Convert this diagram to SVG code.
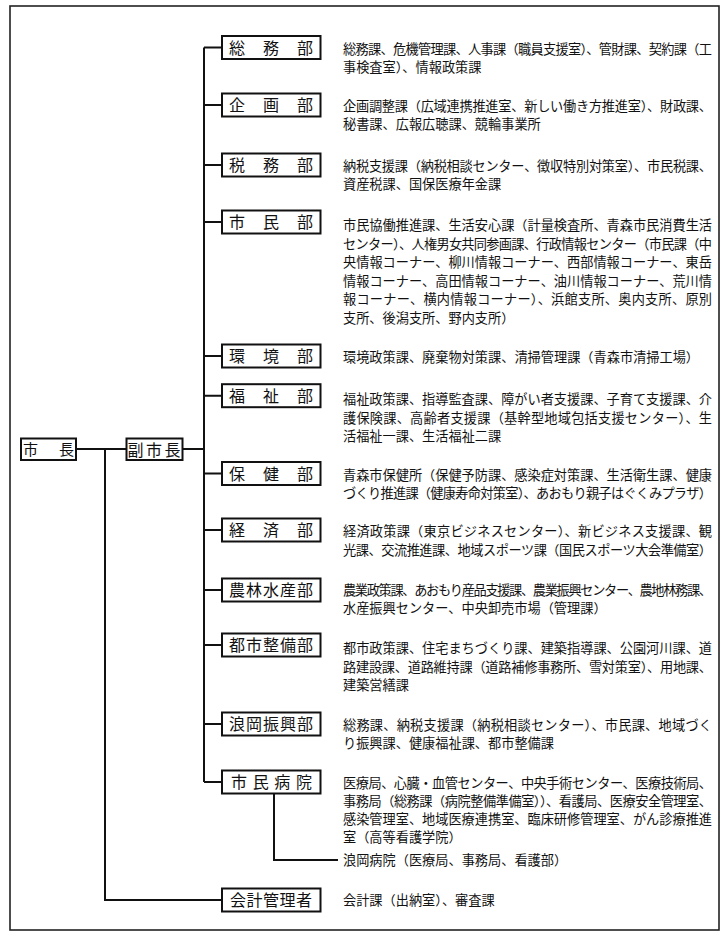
<svg xmlns="http://www.w3.org/2000/svg" width="723" height="932" viewBox="0 0 723 932">
<style>
.bg{fill:#fff}
.frame{fill:none;stroke:#222;stroke-width:1.6}
.box rect{fill:#fff;stroke:#111;stroke-width:2}
.box text{font-family:'Liberation Serif','Noto Sans CJK JP',serif;font-size:16px;fill:#111}
.conn path{fill:none;stroke:#111;stroke-width:2}
.desc{font-family:'Liberation Serif','Noto Sans CJK JP',serif;font-size:13.2px;fill:#111}
</style>
<rect class="bg" x="0" y="0" width="723" height="932"/>
<rect class="frame" x="10" y="6" width="709" height="924"/>
<g class="conn" id="connectors">
<path d="M76 449H126"/>
<path d="M105 449V900H222"/>
<path d="M182.5 449H204"/>
<path d="M204 47.5V782"/>
<path d="M204 47.5H222M204 105H222M204 165H222M204 222H222M204 356H222M204 395.7H222M204 473.5H222M204 530H222M204 590H222M204 645H222M204 724H222M204 782H222"/>
<path d="M274 793.7V860H338"/>
</g>
<g class="box" id="n-shicho"><rect x="21" y="438.5" width="55" height="21.5"/><text x="23" y="455" textLength="51" lengthAdjust="spacing" style="font-size:15px">市長</text></g>
<g class="box" id="n-fukushicho"><rect x="126.5" y="438.5" width="56" height="21.5"/><text x="127.5" y="455.5" textLength="53" lengthAdjust="spacing">副市長</text></g>
<g class="box" id="n-somu"><rect x="222" y="36" width="98.5" height="23"/><text x="229" y="53.5" textLength="84" lengthAdjust="spacing">総務部</text></g>
<g class="box" id="n-kikaku"><rect x="222" y="93.5" width="98.5" height="23"/><text x="229" y="111" textLength="84" lengthAdjust="spacing">企画部</text></g>
<g class="box" id="n-zeimu"><rect x="222" y="153.5" width="98.5" height="23"/><text x="229" y="171" textLength="84" lengthAdjust="spacing">税務部</text></g>
<g class="box" id="n-shimin"><rect x="222" y="210.5" width="98.5" height="23"/><text x="229" y="228" textLength="84" lengthAdjust="spacing">市民部</text></g>
<g class="box" id="n-kankyo"><rect x="222" y="344.5" width="98.5" height="23"/><text x="229" y="362" textLength="84" lengthAdjust="spacing">環境部</text></g>
<g class="box" id="n-fukushi"><rect x="222" y="384.2" width="98.5" height="23"/><text x="229" y="401.7" textLength="84" lengthAdjust="spacing">福祉部</text></g>
<g class="box" id="n-hoken"><rect x="222" y="462" width="98.5" height="23"/><text x="229" y="479.5" textLength="84" lengthAdjust="spacing">保健部</text></g>
<g class="box" id="n-keizai"><rect x="222" y="518.5" width="98.5" height="23"/><text x="229" y="536" textLength="84" lengthAdjust="spacing">経済部</text></g>
<g class="box" id="n-norin"><rect x="222" y="578.5" width="98.5" height="23"/><text x="229" y="596" textLength="84" lengthAdjust="spacing">農林水産部</text></g>
<g class="box" id="n-toshi"><rect x="222" y="633.5" width="98.5" height="23"/><text x="229" y="651" textLength="84" lengthAdjust="spacing">都市整備部</text></g>
<g class="box" id="n-namioka"><rect x="222" y="712.5" width="98.5" height="23"/><text x="229" y="730" textLength="84" lengthAdjust="spacing">浪岡振興部</text></g>
<g class="box" id="n-byoin"><rect x="222" y="770.5" width="98.5" height="23"/><text x="231" y="788" textLength="81" lengthAdjust="spacing">市民病院</text></g>
<g class="box" id="n-kaikei"><rect x="222" y="888.5" width="98.5" height="23"/><text x="230" y="906" textLength="82" lengthAdjust="spacing">会計管理者</text></g>
<g id="descriptions" class="desc">
<text x="343" y="54" textLength="369" lengthAdjust="spacing">総務課、危機管理課、人事課（職員支援室）、管財課、契約課（工</text>
<text x="343" y="72">事検査室）、情報政策課</text>
<text x="343" y="111" textLength="369" lengthAdjust="spacing">企画調整課（広域連携推進室、新しい働き方推進室）、財政課、</text>
<text x="343" y="129">秘書課、広報広聴課、競輪事業所</text>
<text x="343" y="171" textLength="369" lengthAdjust="spacing">納税支援課（納税相談センター、徴収特別対策室）、市民税課、</text>
<text x="343" y="189">資産税課、国保医療年金課</text>
<text x="343" y="230" textLength="369" lengthAdjust="spacing">市民協働推進課、生活安心課（計量検査所、青森市民消費生活</text>
<text x="343" y="248.5" textLength="369" lengthAdjust="spacing">センター）、人権男女共同参画課、行政情報センター（市民課（中</text>
<text x="343" y="267" textLength="369" lengthAdjust="spacing">央情報コーナー、柳川情報コーナー、西部情報コーナー、東岳</text>
<text x="343" y="285.5" textLength="369" lengthAdjust="spacing">情報コーナー、高田情報コーナー、油川情報コーナー、荒川情</text>
<text x="343" y="304" textLength="369" lengthAdjust="spacing">報コーナー、横内情報コーナー）、浜館支所、奥内支所、原別</text>
<text x="343" y="322.5">支所、後潟支所、野内支所）</text>
<text x="343" y="362">環境政策課、廃棄物対策課、清掃管理課（青森市清掃工場）</text>
<text x="343" y="404" textLength="369" lengthAdjust="spacing">福祉政策課、指導監査課、障がい者支援課、子育て支援課、介</text>
<text x="343" y="422.5" textLength="369" lengthAdjust="spacing">護保険課、高齢者支援課（基幹型地域包括支援センター）、生</text>
<text x="343" y="441">活福祉一課、生活福祉二課</text>
<text x="343" y="480" textLength="369" lengthAdjust="spacing">青森市保健所（保健予防課、感染症対策課、生活衛生課、健康</text>
<text x="343" y="498" textLength="369" lengthAdjust="spacing">づくり推進課（健康寿命対策室）、あおもり親子はぐくみプラザ）</text>
<text x="343" y="536" textLength="369" lengthAdjust="spacing">経済政策課（東京ビジネスセンター）、新ビジネス支援課、観</text>
<text x="343" y="554.5" textLength="369" lengthAdjust="spacing">光課、交流推進課、地域スポーツ課（国民スポーツ大会準備室）</text>
<text x="343" y="595" textLength="369" lengthAdjust="spacing">農業政策課、あおもり産品支援課、農業振興センター、農地林務課、</text>
<text x="343" y="613">水産振興センター、中央卸売市場（管理課）</text>
<text x="343" y="653" textLength="369" lengthAdjust="spacing">都市政策課、住宅まちづくり課、建築指導課、公園河川課、道</text>
<text x="343" y="671.5" textLength="369" lengthAdjust="spacing">路建設課、道路維持課（道路補修事務所、雪対策室）、用地課、</text>
<text x="343" y="690">建築営繕課</text>
<text x="343" y="730" textLength="369" lengthAdjust="spacing">総務課、納税支援課（納税相談センター）、市民課、地域づく</text>
<text x="343" y="748">り振興課、健康福祉課、都市整備課</text>
<text x="343" y="788" textLength="369" lengthAdjust="spacing">医療局、心臓・血管センター、中央手術センター、医療技術局、</text>
<text x="343" y="806" textLength="369" lengthAdjust="spacing">事務局（総務課（病院整備準備室））、看護局、医療安全管理室、</text>
<text x="343" y="824" textLength="369" lengthAdjust="spacing">感染管理室、地域医療連携室、臨床研修管理室、がん診療推進</text>
<text x="343" y="842">室（高等看護学院）</text>
<text x="343" y="865">浪岡病院（医療局、事務局、看護部）</text>
<text x="343" y="905">会計課（出納室）、審査課</text>
</g>
</svg>
